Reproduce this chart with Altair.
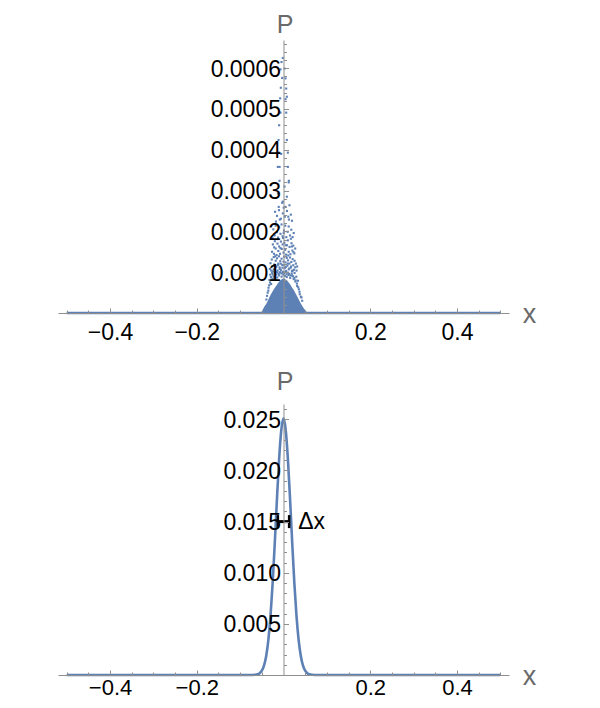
import altair as alt
import pandas as pd

# ---------------- data ----------------
# top panel: points lying on P = 0 across the whole range
zero_x = [-0.5, 0.5]
zero_p = [0.0, 0.0]

# top panel: outline of the solid (dense) part of the point cloud
env_x = [-0.052, -0.048, -0.044, -0.040, -0.036, -0.032, -0.028, -0.024, -0.020,
         -0.016, -0.012, -0.008, -0.004, 0.000, 0.004, 0.008, 0.012, 0.016, 0.020,
         0.024, 0.028, 0.032, 0.036, 0.040, 0.044, 0.048, 0.052, 0.056]
env_p = [0.0, 0.000008, 0.000016, 0.000022, 0.000030, 0.000040, 0.000048, 0.000055,
         0.000062, 0.000068, 0.000074, 0.000079, 0.000083, 0.000085, 0.000083,
         0.000080, 0.000075, 0.000069, 0.000062, 0.000056, 0.000048, 0.000040,
         0.000031, 0.000023, 0.000016, 0.000010, 0.000004, 0.0]

# top panel: scattered points above the solid part
scat_x = [
    -0.0016, -0.0046, -0.0069, 0.0023, -0.0030, 0.0046, -0.0062, 0.0062, -0.0077, 0.0046,
    -0.0069, 0.0062, -0.0100, 0.0077, -0.0115, 0.0077, -0.0108, 0.0100, -0.0131, 0.0100,
    -0.0092, 0.0123, -0.0053, -0.0090, 0.0120,
    -0.0130, 0.0077, -0.0016, -0.0110, 0.0046, 0.0138,
    -0.0195, -0.0150, -0.0105, -0.0060, -0.0015, 0.0030, 0.0080, 0.0125, 0.0170, 0.0195, -0.0175, 0.0005,
    -0.0235, -0.0205, -0.0180, -0.0150, -0.0125, -0.0100, -0.0070, -0.0045, -0.0020, 0.0010,
    0.0040, 0.0065, 0.0095, 0.0120, 0.0150, 0.0180, 0.0210, 0.0235,
    -0.0265, -0.0245, -0.0220, -0.0200, -0.0180, -0.0160, -0.0140, -0.0120, -0.0100, -0.0080,
    -0.0060, -0.0040, -0.0020, 0.0000, 0.0020, 0.0040, 0.0060, 0.0080, 0.0100, 0.0120,
    0.0140, 0.0160, 0.0185, 0.0205, 0.0225, 0.0250, 0.0270,
    -0.0315, -0.0300, -0.0285, -0.0270, -0.0255, -0.0240, -0.0225, -0.0210, -0.0195, -0.0180,
    -0.0165, -0.0150, -0.0135, -0.0120, -0.0105, -0.0090, -0.0075, -0.0060, -0.0045, -0.0030,
    -0.0015, 0.0000, 0.0015, 0.0030, 0.0045, 0.0060, 0.0075, 0.0090, 0.0105, 0.0120,
    0.0135, 0.0150, 0.0165, 0.0180, 0.0195, 0.0210, 0.0225, 0.0240, 0.0255, 0.0270,
    0.0285, 0.0300, 0.0315,
    -0.0380, -0.0350, -0.0330, -0.0310, -0.0290, -0.0270, -0.0250, -0.0230, -0.0200, -0.0170,
    -0.0140, -0.0110, -0.0080, -0.0050, -0.0020, 0.0010, 0.0040, 0.0070, 0.0100, 0.0130,
    0.0160, 0.0190, 0.0220, 0.0250, 0.0280, 0.0310, 0.0340, 0.0370, 0.0400, 0.0430,
    -0.0345, -0.0325, -0.0305, -0.0285, -0.0265, -0.0245, -0.0225, -0.0205, -0.0185, -0.0165,
    -0.0145, -0.0125, -0.0105, -0.0085, -0.0065, -0.0045, -0.0025, -0.0005, 0.0015, 0.0035,
    0.0055, 0.0075, 0.0095, 0.0115, 0.0135, 0.0155, 0.0175, 0.0195, 0.0215, 0.0235,
    0.0255, 0.0275, 0.0295, 0.0315, 0.0335, 0.0355, 0.0375, -0.0365, -0.0395, 0.0415,
    -0.0250, -0.0190, -0.0130, -0.0070, -0.0010, 0.0050, 0.0110, 0.0170, 0.0230, -0.0215,
    0.0195, 0.0005, -0.0085, 0.0110, -0.0030, 0.0025,
]
scat_p = [
    0.000625, 0.000615, 0.000597, 0.000599, 0.000576, 0.000575, 0.000552, 0.000550, 0.000526, 0.000524,
    0.000491, 0.000491, 0.000460, 0.000530, 0.000424, 0.000424, 0.000393, 0.000393, 0.000358, 0.000358,
    0.000324, 0.000324, 0.000390, 0.000358, 0.000320,
    0.000293, 0.000285, 0.000273, 0.000260, 0.000260, 0.000264,
    0.000248, 0.000238, 0.000252, 0.000231, 0.000244, 0.000236, 0.000250, 0.000229, 0.000241, 0.000226, 0.000224, 0.000258,
    0.000205, 0.000190, 0.000214, 0.000198, 0.000185, 0.000210, 0.000194, 0.000217, 0.000188, 0.000202,
    0.000214, 0.000186, 0.000199, 0.000212, 0.000190, 0.000204, 0.000186, 0.000196,
    0.000150, 0.000168, 0.000145, 0.000176, 0.000158, 0.000142, 0.000170, 0.000152, 0.000163, 0.000145,
    0.000175, 0.000157, 0.000168, 0.000148, 0.000172, 0.000155, 0.000143, 0.000166, 0.000178, 0.000150,
    0.000162, 0.000144, 0.000171, 0.000153, 0.000165, 0.000146, 0.000158,
    0.000108, 0.000122, 0.000104, 0.000131, 0.000115, 0.000102, 0.000137, 0.000119, 0.000108, 0.000128,
    0.000113, 0.000134, 0.000104, 0.000121, 0.000139, 0.000112, 0.000127, 0.000105, 0.000133, 0.000118,
    0.000101, 0.000126, 0.000138, 0.000110, 0.000124, 0.000103, 0.000135, 0.000116, 0.000129, 0.000107,
    0.000121, 0.000136, 0.000111, 0.000125, 0.000103, 0.000132, 0.000117, 0.000106, 0.000128, 0.000112,
    0.000121, 0.000104, 0.000114,
    0.000042, 0.000055, 0.000068, 0.000075, 0.000088, 0.000082, 0.000095, 0.000090, 0.000098, 0.000094,
    0.000099, 0.000096, 0.000100, 0.000097, 0.000099, 0.000098, 0.000100, 0.000095, 0.000099, 0.000096,
    0.000092, 0.000097, 0.000090, 0.000086, 0.000080, 0.000072, 0.000063, 0.000052, 0.000040, 0.000030,
    0.000062, 0.000081, 0.000094, 0.000071, 0.000099, 0.000084, 0.000107, 0.000088, 0.000115, 0.000101,
    0.000087, 0.000118, 0.000092, 0.000108, 0.000121, 0.000089, 0.000111, 0.000094, 0.000117, 0.000091,
    0.000113, 0.000088, 0.000121, 0.000093, 0.000109, 0.000086, 0.000114, 0.000092, 0.000104, 0.000083,
    0.000098, 0.000077, 0.000089, 0.000066, 0.000079, 0.000058, 0.000046, 0.000050, 0.000033, 0.000038,
    0.000183, 0.000139, 0.000181, 0.000159, 0.000184, 0.000166, 0.000141, 0.000182, 0.000149, 0.000161,
    0.000163, 0.000196, 0.000229, 0.000236, 0.000270, 0.000310,
]

# bottom panel: smooth probability curve
curve_x = [-0.5, -0.08, -0.065, -0.06, -0.055, -0.05, -0.045, -0.04, -0.035, -0.03, -0.025,
           -0.02, -0.015, -0.01, -0.005, 0.0, 0.005, 0.01, 0.015, 0.02, 0.025, 0.03, 0.035,
           0.04, 0.045, 0.05, 0.055, 0.06, 0.065, 0.08, 0.5]
curve_p = [0.0, 0.0, 0.00002, 0.00007, 0.00018, 0.00042, 0.00092, 0.00184, 0.00338, 0.00575,
           0.0090, 0.0130, 0.0173, 0.0212, 0.0240, 0.0251, 0.0240, 0.0212, 0.0173, 0.0130,
           0.0090, 0.00575, 0.00338, 0.00184, 0.00092, 0.00042, 0.00018, 0.00007, 0.00002,
           0.0, 0.0]

# bottom panel: Δx marker
dx_lo, dx_hi, dx_p = -0.013, 0.013, 0.015
dx_label = "Δx"

# ticks
x_major = [-0.4, -0.2, 0.2, 0.4]
x_minor = [-0.5, -0.45, -0.35, -0.3, -0.25, -0.15, -0.1, -0.05,
           0.05, 0.1, 0.15, 0.25, 0.3, 0.35, 0.45, 0.5]
top_major = [0.0001, 0.0002, 0.0003, 0.0004, 0.0005, 0.0006]
top_minor = [0.00002, 0.00004, 0.00006, 0.00008, 0.00012, 0.00014, 0.00016, 0.00018,
             0.00022, 0.00024, 0.00026, 0.00028, 0.00032, 0.00034, 0.00036, 0.00038,
             0.00042, 0.00044, 0.00046, 0.00048, 0.00052, 0.00054, 0.00056, 0.00058,
             0.00062, 0.00064, 0.00066]
bot_major = [0.005, 0.01, 0.015, 0.02, 0.025]
bot_minor = [0.001, 0.002, 0.003, 0.004, 0.006, 0.007, 0.008, 0.009, 0.011, 0.012,
             0.013, 0.014, 0.016, 0.017, 0.018, 0.019, 0.021, 0.022, 0.023, 0.024, 0.026]

# ---------------- layout / style ----------------
W, H = 451, 635
TOP_RANGE = [273, 0]
BOT_RANGE = [635, 364]
TOP_DOMAIN = [0, 0.000669]
BOT_DOMAIN = [0, 0.0265]
X_DOMAIN = [-0.52, 0.52]
ZERO_OFF = -W / 2.0
BLUE = "#5E81B5"
AXGRAY = "#8f8f8f"
TGRAY = "#6a6a6a"
FONT = "Liberation Sans"

xscale = alt.Scale(domain=X_DOMAIN, nice=False, zero=False)


def yscale(domain, rng):
    return alt.Scale(domain=domain, range=rng, nice=False, zero=False)


def main_x_axis(offset, pad, size):
    return alt.Axis(orient="bottom", offset=offset, values=x_major, format=".1f",
                    ticks=False, tickSize=0, labelPadding=pad, labelFontSize=size,
                    labelColor="black", labelFont=FONT, labelFlush=False,
                    domainColor=AXGRAY, domainWidth=1, grid=False,
                    title="x", titleX=471, titleY=9, titleAngle=0, titleAlign="center",
                    titleBaseline="alphabetic", titleFontSize=27, titleFontWeight="normal",
                    titleColor=TGRAY, titleFont=FONT, zindex=1)


def main_y_axis(values, fmt, title_y):
    return alt.Axis(orient="left", offset=ZERO_OFF, values=values, format=fmt,
                    ticks=False, tickSize=0, labelPadding=3, labelOffset=1,
                    labelFontSize=23, labelColor="black", labelFont=FONT,
                    domainColor=AXGRAY, domainWidth=1, grid=False,
                    title="P", titleX=1, titleY=title_y, titleAngle=0, titleAlign="center",
                    titleBaseline="alphabetic", titleFontSize=25, titleFontWeight="normal",
                    titleColor=TGRAY, titleFont=FONT, zindex=1)


def tick_x_axis(values, size, offset):
    return alt.Axis(orient="top", offset=offset, values=values, labels=False, domain=False,
                    ticks=True, tickSize=size, tickColor=AXGRAY, tickWidth=1, grid=False,
                    title=None, zindex=1)


def tick_y_axis(values, size):
    return alt.Axis(orient="right", offset=ZERO_OFF, values=values, labels=False,
                    domain=False, ticks=True, tickSize=size, tickColor=AXGRAY, tickWidth=1,
                    grid=False, title=None, zindex=1)


df_zero = pd.DataFrame({"x": zero_x, "p": zero_p})
df_env = pd.DataFrame({"x": env_x, "p": env_p})
df_sc = pd.DataFrame({"x": scat_x, "p": scat_p})
df_curve = pd.DataFrame({"x": curve_x, "p": curve_p})
df_bar = pd.DataFrame({"x": [dx_lo], "x2": [dx_hi], "p": [dx_p], "label": [dx_label]})
df_caps = pd.DataFrame({"x": [dx_lo, dx_hi], "p": [dx_p, dx_p]})

# ---------------- top panel ----------------
top_zero = alt.Chart(df_zero).mark_line(color=BLUE, strokeWidth=2.5).encode(
    x=alt.X("x:Q", scale=xscale,
            axis=main_x_axis(-(BOT_RANGE[0] - TOP_RANGE[0]), 8, 23)),
    y=alt.Y("p:Q", scale=yscale(TOP_DOMAIN, TOP_RANGE),
            axis=main_y_axis(top_major, ".4f", -8)),
)
top_area = alt.Chart(df_env).mark_area(color=BLUE, opacity=1).encode(
    x=alt.X("x:Q", scale=xscale, axis=tick_x_axis(x_major, 5, -TOP_RANGE[0])),
    y=alt.Y("p:Q", scale=yscale(TOP_DOMAIN, TOP_RANGE), axis=tick_y_axis(top_major, 5)),
)
top_pts = alt.Chart(df_sc).mark_square(color=BLUE, size=4.5, opacity=1).encode(
    x=alt.X("x:Q", scale=xscale, axis=tick_x_axis(x_minor, 3, -TOP_RANGE[0])),
    y=alt.Y("p:Q", scale=yscale(TOP_DOMAIN, TOP_RANGE), axis=tick_y_axis(top_minor, 3)),
)

# ---------------- bottom panel ----------------
bot_curve = alt.Chart(df_curve).mark_line(color=BLUE, strokeWidth=2.6,
                                          interpolate="monotone").encode(
    x=alt.X("x:Q", scale=xscale, axis=main_x_axis(0, 2, 22)),
    y=alt.Y("p:Q", scale=yscale(BOT_DOMAIN, BOT_RANGE),
            axis=main_y_axis(bot_major, ".3f", 349)),
)
bot_bar = alt.Chart(df_bar).mark_rule(color="black", strokeWidth=3).encode(
    x=alt.X("x:Q", scale=xscale, axis=tick_x_axis(x_major, 5, -BOT_RANGE[0])),
    x2="x2:Q",
    y=alt.Y("p:Q", scale=yscale(BOT_DOMAIN, BOT_RANGE), axis=tick_y_axis(bot_major, 5)),
)
bot_caps = alt.Chart(df_caps).mark_tick(color="black", orient="vertical", size=13,
                                        thickness=2.5, opacity=1).encode(
    x=alt.X("x:Q", scale=xscale, axis=tick_x_axis(x_minor, 3, -BOT_RANGE[0])),
    y=alt.Y("p:Q", scale=yscale(BOT_DOMAIN, BOT_RANGE), axis=tick_y_axis(bot_minor, 3)),
)
bot_text = alt.Chart(df_bar).mark_text(align="left", baseline="middle", dx=9,
                                       fontSize=23, color="black", font=FONT).encode(
    x=alt.X("x2:Q", scale=xscale, axis=None),
    y=alt.Y("p:Q", scale=yscale(BOT_DOMAIN, BOT_RANGE), axis=None),
    text="label:N",
)

chart = alt.layer(
    top_zero, top_area, top_pts, bot_curve, bot_bar, bot_caps, bot_text
).resolve_scale(
    y="independent"
).resolve_axis(
    x="independent", y="independent"
).properties(
    width=W, height=H,
    autosize=alt.AutoSizeParams(type="none"),
    padding={"left": 50, "top": 32, "right": 70, "bottom": 25},
).configure(font=FONT).configure_view(stroke=None)

chart.save("out.html", embed_options={"renderer": "svg", "actions": False})
